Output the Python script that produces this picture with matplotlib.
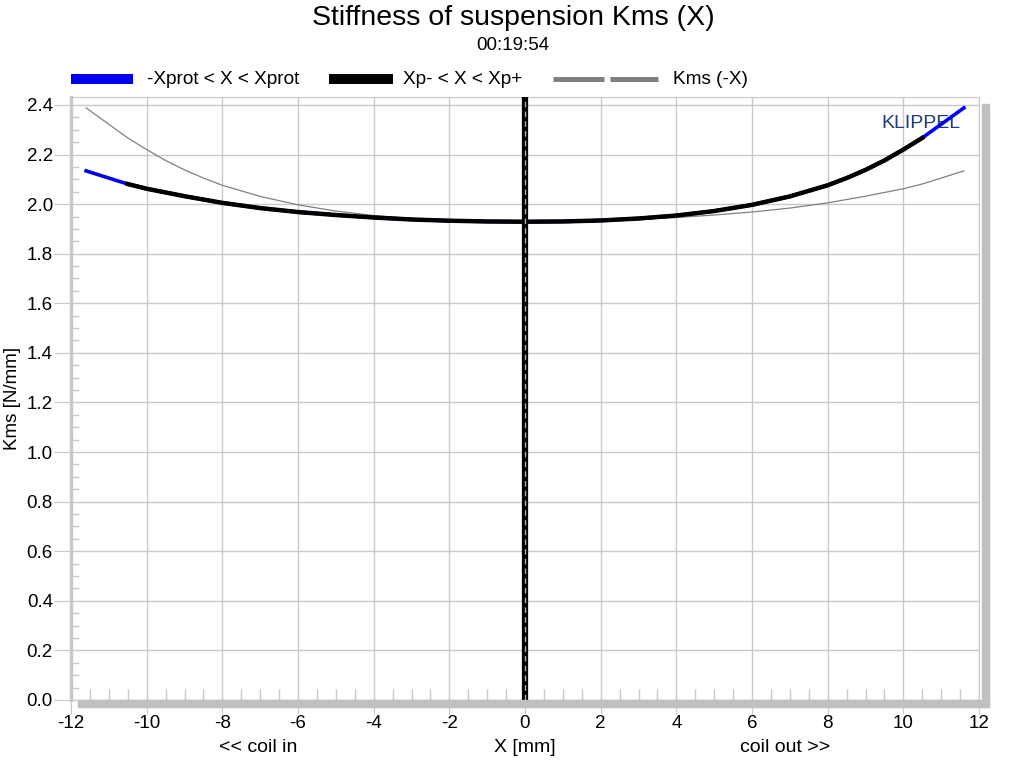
import numpy as np
import matplotlib
matplotlib.use('Agg')
from matplotlib import pyplot as plt
from matplotlib.lines import Line2D
from matplotlib.patches import Rectangle
from matplotlib.ticker import MultipleLocator

plt.rcParams['font.family'] = ['Liberation Sans', 'DejaVu Sans']

# Kms(X) (X in mm, Kms in N/mm)
x_mm = [-11.6, -11, -10.5, -10, -9, -8, -7, -6, -5, -4, -3, -2, -1, 0,
        1, 2, 3, 4, 5, 6, 7, 8, 8.5, 9, 9.5, 10, 10.5, 11, 11.6]
kms = [2.134, 2.105, 2.081, 2.062, 2.032, 2.005, 1.984, 1.968, 1.956, 1.946,
       1.938, 1.933, 1.930, 1.929, 1.930, 1.934, 1.942, 1.954, 1.972, 1.997,
       2.031, 2.076, 2.105, 2.138, 2.176, 2.220, 2.267, 2.322, 2.388]
xp_minus, xp_plus = -10.5, 10.5

x = np.array(x_mm)
k = np.array(kms)
inner = (x >= xp_minus) & (x <= xp_plus)

W, H = 1024, 768
fig = plt.figure(figsize=(10.24, 7.68), dpi=100)
ax = fig.add_axes([71/W, 1 - 700/H, 908/W, 603/H])

ax.plot(-x, k, color='#808080', lw=0.9, zorder=3)
ax.plot(x, k, color='#0000ee', lw=2.6, zorder=4, solid_joinstyle='round')
ax.plot(x[inner], k[inner], color='black', lw=3.2, zorder=5,
        solid_joinstyle='round')
ax.axvline(0, color='black', lw=4.5, zorder=6)
ax.axvline(0, color='#b0b0b0', lw=1, ls=(0, (4, 3)), zorder=7)

ax.set_xlim(-12, 12)
ax.set_ylim(0, 2.432)
ax.xaxis.set_minor_locator(MultipleLocator(0.5))
ax.yaxis.set_minor_locator(MultipleLocator(0.05))
ax.set_xticks(np.arange(-12, 13, 2))
ax.set_xticklabels([str(v) for v in range(-12, 13, 2)])
ax.set_yticks(np.arange(0, 2.41, 0.2))
ax.set_yticklabels([f'{v:.1f}' for v in np.arange(0, 2.41, 0.2)])
ax.grid(True, which='major', color='#c8c8c8', lw=1)
ax.tick_params(axis='y', which='major', direction='out', length=12,
               color='#c8c8c8', labelsize=13.5, pad=1)
ax.tick_params(axis='x', which='major', direction='out', length=10,
               color='#c8c8c8', labelsize=13.5, pad=1)
ax.tick_params(axis='y', which='minor', direction='in', length=6,
               color='#c8c8c8', width=1)
ax.tick_params(axis='x', which='minor', direction='in', length=8,
               color='#c8c8c8', width=1)
for s in ax.spines.values():
    s.set_color('#c8c8c8')
ax.spines['left'].set_linewidth(2.5)

ax.set_ylabel('Kms [N/mm]', fontsize=13.5, labelpad=4)
fig.text(525/W, 1 - 748/H, 'X [mm]', ha='center', va='center', fontsize=14)
fig.text(258/W, 1 - 748/H, '<< coil in', ha='center', va='center', fontsize=14)
fig.text(785/W, 1 - 748/H, 'coil out >>', ha='center', va='center', fontsize=14)

fig.text(513/W, 1 - 18/H, 'Stiffness of suspension Kms (X)',
         ha='center', va='center', fontsize=20.5)
fig.text(513/W, 1 - 46/H, '00:19:54', ha='center', va='center', fontsize=13.5)
# logo sits below the curves
ax.text(921/W, 1 - 124/H, 'KLIPPEL', transform=fig.transFigure, fontsize=14,
        color='#1f3c7a', ha='center', va='center', zorder=2)

# shadow bars right and bottom of the plot frame
fig.patches.append(Rectangle((982/W, 1 - 707/H), 7/W, 603/H,
                             transform=fig.transFigure, color='#c0c0c0',
                             zorder=0))
fig.patches.append(Rectangle((78/W, 1 - 707/H), 911/W, 7/H,
                             transform=fig.transFigure, color='#c0c0c0',
                             zorder=0))

# legend drawn by hand
ly = 1 - 79/H
fig.add_artist(Line2D([71/W, 133/W], [ly, ly], color='#0000ee', lw=7.2,
                      solid_capstyle='butt'))
fig.text(147/W, ly, '-Xprot < X < Xprot', va='center', fontsize=13.7)
fig.add_artist(Line2D([329/W, 393/W], [ly, ly], color='black', lw=7.2,
                      solid_capstyle='butt'))
fig.text(403/W, ly, 'Xp- < X < Xp+', va='center', fontsize=13.7)
gy = 1 - 78.5/H
fig.add_artist(Line2D([553/W, 604/W], [gy, gy], color='#808080', lw=3.6,
                      solid_capstyle='butt'))
fig.add_artist(Line2D([610/W, 658/W], [gy, gy], color='#808080', lw=3.6,
                      solid_capstyle='butt'))
fig.text(673/W, ly, 'Kms (-X)', va='center', fontsize=13.7)

fig.savefig('out.png', dpi=100)
